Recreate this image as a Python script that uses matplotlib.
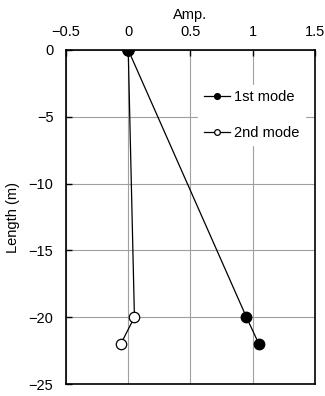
import matplotlib
matplotlib.use("Agg")
import matplotlib.pyplot as plt

plt.rcParams['font.family'] = ['Liberation Sans', 'DejaVu Sans']
plt.rcParams['font.size'] = 10.5

# mode shapes (amplitude vs depth)
depth = [0, -20, -22]
mode1 = [0, 0.95, 1.05]
mode2 = [0, 0.05, -0.06]

xticks = [-0.5, 0, 0.5, 1, 1.5]
xticklabels = ['\u22120.5', '0', '0.5', '1', '1.5']
yticks = [0, -5, -10, -15, -20, -25]
yticklabels = ['0', '\u22125', '\u221210', '\u221215', '\u221220', '\u221225']

fig = plt.figure(figsize=(3.25, 3.96), dpi=100)
ax = fig.add_axes([0.203, 0.030, 0.766, 0.844])

ax.plot(mode1, depth, '-o', color='black', lw=0.9, ms=7.5,
        mfc='black', mec='black', label='1st mode', zorder=3)
ax.plot(mode2, depth, '-o', color='black', lw=0.9, ms=7.5,
        mfc='white', mec='black', mew=0.9, label='2nd mode', zorder=3)
# top point drawn filled on top of both
ax.plot([mode1[0]], [depth[0]], 'o', color='black', ms=8, zorder=4)

ax.set_xlim(-0.5, 1.5)
ax.set_ylim(-25, 0)
ax.set_xticks(xticks)
ax.set_xticklabels(xticklabels)
ax.set_yticks(yticks)
ax.set_yticklabels(yticklabels)
ax.xaxis.tick_top()
ax.xaxis.set_label_position('top')
ax.tick_params(direction='in', length=4, width=1)
ax.tick_params(axis='y', pad=9)
ax.tick_params(axis='x', pad=8)
ax.set_xlabel('Amp.', labelpad=4)
ax.set_ylabel('Length (m)', labelpad=6)
ax.grid(True, color='#a0a0a0', lw=0.8)
ax.set_axisbelow(True)
for s in ax.spines.values():
    s.set_linewidth(1.2)

leg = ax.legend(loc='center left', bbox_to_anchor=(0.50, 0.805), frameon=True,
                fancybox=False, edgecolor='white', framealpha=1,
                markerscale=0.55, handlelength=1.8, handletextpad=0.3,
                labelspacing=1.45, borderpad=0.4)

fig.savefig('out.png', dpi=100)
